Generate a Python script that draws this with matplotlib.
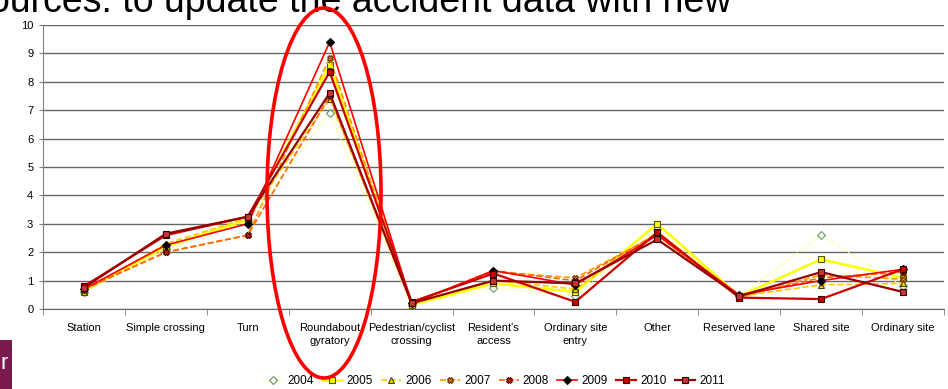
import matplotlib
matplotlib.use("Agg")
import matplotlib.pyplot as plt
from matplotlib.patches import Ellipse, Rectangle
import numpy as np

plt.rcParams['font.family'] = ['Liberation Sans', 'DejaVu Sans']

categories = ["Station", "Simple crossing", "Turn", "Roundabout\ngyratory",
              "Pedestrian/cyclist\ncrossing", "Resident's\naccess",
              "Ordinary site\nentry", "Other", "Reserved lane", "Shared site",
              "Ordinary site"]
years = ["2004", "2005", "2006", "2007", "2008", "2009", "2010", "2011"]

y2004 = [0.60, 2.10, 3.10, 6.90, 0.15, 0.75, 0.45, 2.80, 0.45, 2.60, 0.80]
y2005 = [0.65, 2.20, 3.15, 8.60, 0.15, 0.90, 0.60, 3.00, 0.45, 1.75, 1.10]
y2006 = [0.60, 2.30, 3.20, 7.40, 0.20, 1.00, 0.70, 2.70, 0.45, 0.85, 0.90]
y2007 = [0.70, 2.00, 2.60, 8.85, 0.20, 1.30, 1.10, 2.60, 0.40, 1.20, 1.05]
y2008 = [0.70, 2.00, 2.60, 7.50, 0.20, 1.35, 1.00, 2.65, 0.45, 1.10, 1.30]
y2009 = [0.70, 2.25, 3.00, 9.40, 0.20, 1.35, 0.85, 2.60, 0.50, 1.00, 1.40]
y2010 = [0.80, 2.60, 3.25, 8.35, 0.25, 1.25, 0.25, 2.70, 0.40, 0.35, 1.40]
y2011 = [0.75, 2.65, 3.25, 7.60, 0.20, 1.00, 0.90, 2.45, 0.45, 1.30, 0.60]
series = [y2004, y2005, y2006, y2007, y2008, y2009, y2010, y2011]

# colour, linestyle, linewidth, marker, marker face, marker edge
styles = [
    ("#FFFF66", ":", 1.0, "D", "white", "#669966"),
    ("#FFFF00", "-", 1.8, "s", "#FFFF00", "#555500"),
    ("#FFCC00", "--", 1.2, "^", "#FFCC00", "#444400"),
    ("#FF9900", "--", 1.2, "X", "#FF9900", "#663300"),
    ("#FF6600", "--", 1.2, "X", "#FF3300", "#550000"),
    ("#FF0000", "-", 1.2, "D", "black", "black"),
    ("#CC0000", "-", 1.6, "s", "#CC0000", "#330000"),
    ("#990000", "-", 1.6, "s", "#CC3333", "#330000"),
]

fig = plt.figure(figsize=(9.48, 3.89), dpi=100)
ax = fig.add_axes([43 / 948, 80 / 389, 901 / 948, 284 / 389])

x = np.arange(len(categories))
handles = []
for ys, yr, (c, ls, lw, mk, mf, me) in zip(series, years, styles):
    h, = ax.plot(x, ys, color=c, linestyle=ls, linewidth=lw, marker=mk,
                 markersize=4, markerfacecolor=mf, markeredgecolor=me,
                 markeredgewidth=0.8, label=yr)
    handles.append(h)

ax.set_xlim(-0.5, len(categories) - 0.5)
ax.set_ylim(0, 10)
ax.set_yticks(range(0, 11))
ax.tick_params(axis='y', labelsize=8, length=3, color='#808080', pad=4)
ax.yaxis.grid(True, color='#666666', linewidth=1.0)
ax.set_axisbelow(True)

ax.set_xticks(x)
ax.set_xticklabels(categories, fontsize=8, linespacing=1.45)
ax.tick_params(axis='x', length=0, pad=10)
ax.set_xticks(np.arange(-0.5, len(categories), 1.0), minor=True)
ax.tick_params(axis='x', which='minor', length=4, color='#808080')

for s in ['top', 'right']:
    ax.spines[s].set_visible(False)
ax.spines['left'].set_color('#808080')
ax.spines['bottom'].set_color('#666666')

fig.legend(handles=handles, loc='center', bbox_to_anchor=(494 / 948, 1 - 381 / 389),
           ncol=8, frameon=False, fontsize=8.5, handlelength=1.7,
           columnspacing=0.7, handletextpad=0.35)

# slide elements around the chart
fig.text(-0.012, 1 - 12 / 389, "ources: to update the accident data with new",
         fontsize=27, color='black', va='baseline', ha='left')
fig.add_artist(Rectangle((0, 0), 12 / 948, 49 / 389, transform=fig.transFigure,
                         facecolor='#7A1A4E', edgecolor='none'))
fig.text(0.5 / 948, 20 / 389, "r", fontsize=16, color='white', va='baseline')

fig.add_artist(Ellipse((324 / 948, 1 - 193 / 389), 114 / 948, 370 / 389,
                       transform=fig.transFigure, fill=False,
                       edgecolor='#FF0000', linewidth=2.6, zorder=10))

fig.savefig("out.png", dpi=100)
